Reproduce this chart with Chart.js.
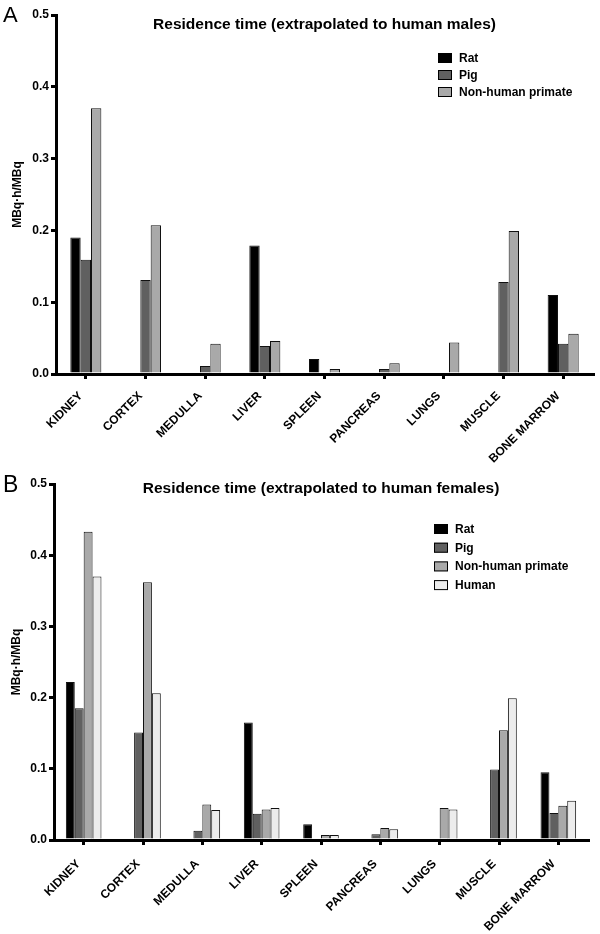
<!DOCTYPE html>
<html>
<head>
<meta charset="utf-8">
<script src="https://cdn.jsdelivr.net/npm/chart.js@4"></script>
<style>
  html, body { margin: 0; padding: 0; background: #ffffff; }
  #wrap { position: relative; width: 600px; height: 934px; overflow: hidden; }
  canvas { position: absolute; left: 0; background: transparent; }
  #chartA { z-index: 2; }
  #chartB { z-index: 1; }
</style>
</head>
<body>
<div id="wrap">
  <canvas id="chartB" width="600" height="474" style="top:460px"></canvas>
  <canvas id="chartA" width="600" height="480" style="top:0px"></canvas>
</div>
<script>
// ---------- data ----------
const categories = ["KIDNEY", "CORTEX", "MEDULLA", "LIVER", "SPLEEN", "PANCREAS", "LUNGS", "MUSCLE", "BONE MARROW"];
const yTicks = [0.0, 0.1, 0.2, 0.3, 0.4, 0.5];

// Panel A: extrapolated to human males
const ratMale    = [0.190, null, null,  0.179, 0.021, null,  null,  null,  0.110];
const pigMale    = [0.159, 0.131, 0.011, 0.039, null,  0.007, null,  0.128, 0.042];
const nhpMale    = [0.370, 0.207, 0.042, 0.046, 0.007, 0.015, 0.044, 0.199, 0.056];

// Panel B: extrapolated to human females
const ratFemale   = [0.222, null,  null,  0.165, 0.022, null,  null,  null,  0.095];
const pigFemale   = [0.185, 0.151, 0.013, 0.037, null,  0.008, null,  0.099, 0.038];
const nhpFemale   = [0.433, 0.362, 0.050, 0.043, 0.007, 0.017, 0.045, 0.154, 0.048];
const humanFemale = [0.370, 0.206, 0.042, 0.045, 0.007, 0.015, 0.043, 0.199, 0.055];

const seriesNames = ["Rat", "Pig", "Non-human primate", "Human"];
const seriesColors = ["#000000", "#606060", "#a9a9a9", "#ececec"];

// ---------- helpers ----------
const FONT = '"Liberation Sans", Arial, Helvetica, sans-serif';

function ds(i, data) {
  return {
    label: seriesNames[i],
    data: data,
    backgroundColor: seriesColors[i],
    borderColor: "#111111",
    borderWidth: 1,
    borderSkipped: "start",
    barPercentage: 1.0
  };
}

const decorPlugin = {
  id: "panelDecor",
  afterDraw(chart, args, opts) {
    const ctx = chart.ctx;
    const ca = chart.chartArea;
    ctx.save();
    // panel letter
    ctx.fillStyle = "#000";
    ctx.font = "normal " + opts.letterSize + "px " + FONT;
    ctx.textAlign = "left";
    ctx.textBaseline = "alphabetic";
    ctx.fillText(opts.letter, opts.letterX, opts.letterY);
    // title
    ctx.font = "bold " + opts.titleSize + "px " + FONT;
    ctx.textAlign = "center";
    ctx.textBaseline = "middle";
    ctx.fillText(opts.title, (ca.left + ca.right) / 2, opts.titleY);
    // legend
    ctx.font = "bold 12px " + FONT;
    ctx.textAlign = "left";
    ctx.textBaseline = "middle";
    chart.data.datasets.forEach((d, i) => {
      const y = opts.legendY + i * opts.legendRow;
      ctx.fillStyle = d.backgroundColor;
      ctx.fillRect(opts.legendX, y - 5, 14, 10);
      ctx.strokeStyle = "#000";
      ctx.lineWidth = 1;
      ctx.strokeRect(opts.legendX + 0.5, y - 4.5, 13, 9);
      ctx.fillStyle = "#000";
      ctx.fillText(d.label, opts.legendX + 21, y + 0.5);
    });
    ctx.restore();
  }
};

function makeChart(id, datasets, cfg) {
  return new Chart(document.getElementById(id), {
    type: "bar",
    data: { labels: categories, datasets: datasets },
    plugins: [decorPlugin],
    options: {
      responsive: false,
      animation: false,
      devicePixelRatio: 1,
      categoryPercentage: cfg.catPct,
      layout: { padding: { top: cfg.padTop, right: cfg.padRight, left: 0, bottom: 0 } },
      plugins: {
        legend: { display: false },
        tooltip: { enabled: false },
        title: { display: false },
        panelDecor: cfg.decor
      },
      scales: {
        x: {
          afterFit: (s) => { s.height = cfg.xHeight; },
          grid: {
            display: true, offset: false, drawOnChartArea: false, drawTicks: true,
            tickLength: 5, lineWidth: 3, color: "#000"
          },
          border: { display: true, width: 3, color: "#000" },
          ticks: {
            autoSkip: false, maxRotation: 45, minRotation: 45,
            padding: cfg.xLabelPad, labelOffset: -5,
            color: "#000", font: { family: FONT, size: 12, weight: "bold" }
          }
        },
        y: {
          min: 0, max: 0.5,
          afterFit: (s) => { s.width = cfg.yWidth; },
          afterBuildTicks: (s) => { s.ticks = yTicks.map(v => ({ value: v })); },
          grid: {
            display: true, drawOnChartArea: false, drawTicks: true,
            tickLength: 5, lineWidth: 3, color: "#000"
          },
          border: { display: true, width: 3, color: "#000" },
          ticks: {
            padding: 2, color: "#000",
            font: { family: FONT, size: 12, weight: "bold" },
            callback: (v) => Number(v).toFixed(1)
          },
          title: {
            display: true, text: "MBq\u00b7h/MBq", color: "#000",
            font: { family: FONT, size: 12, weight: "bold" },
            padding: { top: cfg.yTitlePad, bottom: 0 }
          }
        }
      }
    }
  });
}

makeChart("chartA",
  [ds(0, ratMale), ds(1, pigMale), ds(2, nhpMale)],
  {
    catPct: 0.52, padTop: 15, padRight: 7, xHeight: 106, yWidth: 56, yTitlePad: 10, xLabelPad: 10,
    decor: {
      letter: "A", letterX: 3, letterY: 22, letterSize: 22,
      title: "Residence time (extrapolated to human males)", titleY: 25, titleSize: 15.5,
      legendX: 438, legendY: 58, legendRow: 17
    }
  });

makeChart("chartB",
  [ds(0, ratFemale), ds(1, pigFemale), ds(2, nhpFemale), ds(3, humanFemale)],
  {
    catPct: 0.6, padTop: 24, padRight: 12, xHeight: 94, yWidth: 54, yTitlePad: 9, xLabelPad: 12,
    decor: {
      letter: "B", letterX: 3, letterY: 32, letterSize: 23,
      title: "Residence time (extrapolated to human females)", titleY: 29, titleSize: 15.5,
      legendX: 434, legendY: 69, legendRow: 18.7
    }
  });
</script>
</body>
</html>
